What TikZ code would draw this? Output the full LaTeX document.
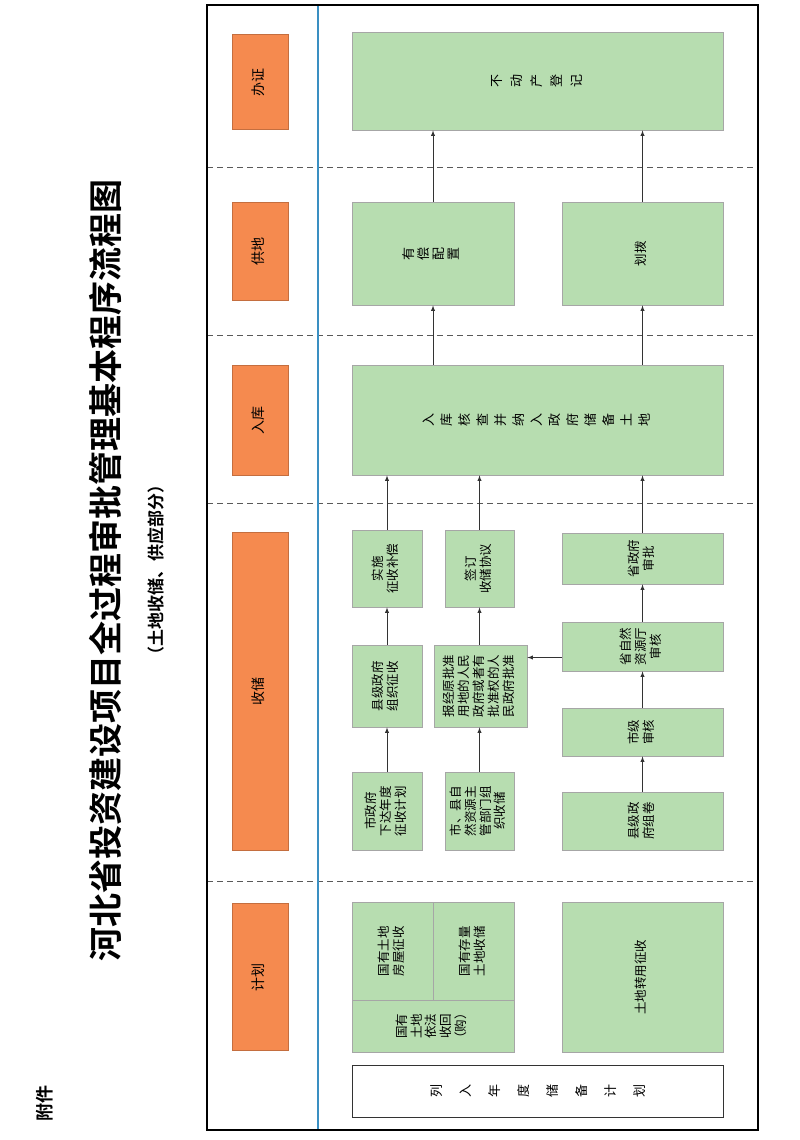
\documentclass[tikz,border=0pt]{standalone}
\usepackage{fontspec}
\setmainfont{Noto Sans CJK SC}
\newfontfamily\titlefont{Noto Sans CJK SC Bold}
\definecolor{org}{HTML}{F58A4F}
\definecolor{grn}{HTML}{B7DDB0}
\definecolor{bln}{HTML}{3A8FC2}
\tikzset{
 gbox/.style={draw=gray!70,fill=grn,line width=0.8pt,inner sep=0pt,font=\fontsize{12.5}{14.5}\selectfont},
 obox/.style={draw=org!80!black,fill=org,line width=0.5pt,inner sep=0pt,font=\fontsize{14}{16}\selectfont},
 wbox/.style={draw=black!80,fill=white,line width=1pt,inner sep=0pt,font=\fontsize{13}{15}\selectfont},
 arr/.style={-latex,draw=black!80,line width=0.9pt},
 sep/.style={draw=black!65,line width=0.9pt,dash pattern=on 6pt off 4pt}
}
\newcommand{\rt}[1]{\rotatebox{90}{\begin{tabular}{@{}c@{}}#1\end{tabular}}}
\newcommand{\stk}[2]{\rotatebox{90}{\fontsize{13}{#1}\selectfont\begin{tabular}{@{}c@{}}#2\end{tabular}}}
\begin{document}
\begin{tikzpicture}[x=1pt,y=-1pt]
\useasboundingbox (0,0) rectangle (800,1140);
\fill[white] (0,0) rectangle (800,1140);
% frame
\draw[sep] (207,167) -- (758,167);
\draw[sep] (207,335) -- (758,335);
\draw[sep] (207,503) -- (758,503);
\draw[sep] (207,881) -- (758,881);
\draw[bln,line width=1.5pt] (318,5) -- (318,1130);
\draw[black,line width=2pt] (207,5) rectangle (758,1130);
% titles
\node[font=\titlefont\fontsize{34}{36}\selectfont] (title) at (105,570) {\rotatebox{90}{河北省投资建设项目全过程审批管理基本程序流程图}};
\node[font=\titlefont\fontsize{17}{19}\selectfont] (sub) at (156,570) {\rotatebox{90}{（土地收储、供应部分）}};
\node[font=\titlefont\fontsize{18}{20}\selectfont] (fj) at (45,1103) {\rotatebox{90}{附件}};
% stage labels
\node[obox,minimum width=56,minimum height=95] (s1) at (260,82) {\rt{办证}};
\node[obox,minimum width=56,minimum height=98] (s2) at (260,251) {\rt{供地}};
\node[obox,minimum width=56,minimum height=110] (s3) at (260,420) {\rt{入库}};
\node[obox,minimum width=56,minimum height=318] (s4) at (260,691) {\rt{收储}};
\node[obox,minimum width=56,minimum height=147] (s5) at (260,977) {\rt{计划}};
% boxes
\node[gbox,minimum width=371,minimum height=98] (bdc) at (537.5,81) {\stk{20}{不\\动\\产\\登\\记}};
\node[gbox,minimum width=162,minimum height=103] (yc) at (433,253.5) {\stk{15}{有\\偿\\配\\置}};
\node[gbox,minimum width=161,minimum height=103] (hb) at (642.5,253.5) {\rt{划拨}};
\node[gbox,minimum width=371,minimum height=110] (rk) at (537.5,420) {\stk{18}{入\\库\\核\\查\\并\\纳\\入\\政\\府\\储\\备\\土\\地}};
\node[gbox,minimum width=70,minimum height=77] (ss) at (387,568.5) {\rt{实施\\征收补偿}};
\node[gbox,minimum width=69,minimum height=77] (qd) at (479.5,568.5) {\rt{签订\\收储协议}};
\node[gbox,minimum width=161,minimum height=51] (szf) at (642.5,558.5) {\rt{省政府\\审批}};
\node[gbox,minimum width=70,minimum height=82] (xj) at (387,686) {\rt{县级政府\\组织征收}};
\node[gbox,minimum width=93,minimum height=82] (bj) at (480.5,686) {\rt{报经原批准\\用地的人民\\政府或者有\\批准权的人\\民政府批准}};
\node[gbox,minimum width=161,minimum height=49] (szr) at (642.5,646.5) {\rt{省自然\\资源厅\\审核}};
\node[gbox,minimum width=161,minimum height=48] (sj) at (642.5,732) {\rt{市级\\审核}};
\node[gbox,minimum width=70,minimum height=78] (sx) at (387,811) {\rt{市政府\\下达年度\\征收计划}};
\node[gbox,minimum width=69,minimum height=78] (sxz) at (479.5,811) {\rt{市、县自\\然资源主\\管部门组\\织收储}};
\node[gbox,minimum width=161,minimum height=58] (zj) at (642.5,821) {\rt{县级政\\府组卷}};
% plan group
\node[gbox,minimum width=81,minimum height=98] (p1) at (392.5,951) {\rt{国有土地\\房屋征收}};
\node[gbox,minimum width=81,minimum height=98] (p2) at (473.5,951) {\rt{国有存量\\土地收储}};
\node[gbox,minimum width=162,minimum height=52] (p3) at (433,1026) {\rt{国有\\土地\\依法\\收回\\（购）}};
\node[gbox,minimum width=161,minimum height=150] (zy) at (642.5,977) {\rt{土地转用征收}};
\node[wbox,minimum width=371,minimum height=52] (lr) at (537.5,1091) {\stk{29}{列\\入\\年\\度\\储\\备\\计\\划}};
% arrows
\draw[arr] (yc.north) -- (bdc.south -| yc.north);
\draw[arr] (hb.north) -- (bdc.south -| hb.north);
\draw[arr] (rk.north -| yc.north) -- (yc.south);
\draw[arr] (rk.north -| hb.north) -- (hb.south);
\draw[arr] (ss.north) -- (rk.south -| ss.north);
\draw[arr] (qd.north) -- (rk.south -| qd.north);
\draw[arr] (szf.north) -- (rk.south -| szf.north);
\draw[arr] (xj.north) -- (ss.south);
\draw[arr] (bj.north -| qd.south) -- (qd.south);
\draw[arr] (sx.north) -- (xj.south);
\draw[arr] (sxz.north) -- (bj.south -| sxz.north);
\draw[arr] (szr.north) -- (szf.south);
\draw[arr] (sj.north) -- (szr.south);
\draw[arr] (zj.north) -- (sj.south);
\draw[arr] ([yshift=-11pt]szr.west) -- ([yshift=-11pt]szr.west -| bj.east);
\end{tikzpicture}
\end{document}
